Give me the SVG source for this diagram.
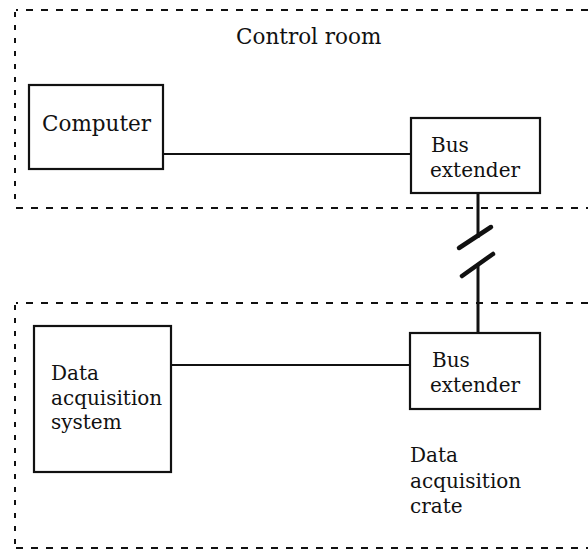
<svg xmlns="http://www.w3.org/2000/svg" width="588" height="551" viewBox="0 0 588 551">
<style>
.t{font-family:"DejaVu Serif","Liberation Serif",serif;font-size:20px;fill:#111}
.big{font-size:21.5px}
.box{fill:#fff;stroke:#111;stroke-width:2.2}
.dash{fill:none;stroke:#111;stroke-width:2.2;stroke-dasharray:7 8}
.dashv{fill:none;stroke:#111;stroke-width:2;stroke-dasharray:5 8}
.wire{stroke:#111;stroke-width:1.8;fill:none}
.bus{stroke:#111;stroke-width:3;fill:none}
.brk{stroke:#111;stroke-width:4.5;stroke-linecap:round;fill:none}
</style>
<g id="control-room">
<path class="dash" d="M588 10 H16"/>
<path class="dashv" d="M15 12 V206"/>
<path class="dash" d="M16 208 H588"/>
<text class="t big" x="236" y="44">Control room</text>
</g>
<g id="acq-crate">
<path class="dash" d="M588 303 H16"/>
<path class="dashv" d="M15 305 V546"/>
<path class="dash" d="M16 548 H588"/>
<text class="t"><tspan x="410" y="462">Data</tspan><tspan x="410" y="488">acquisition</tspan><tspan x="410" y="513">crate</tspan></text>
</g>
<g id="connectors">
<line class="wire" x1="163" y1="154" x2="411" y2="154"/>
<line class="wire" x1="171" y1="365" x2="410" y2="365"/>
<line class="bus" x1="478" y1="193" x2="478" y2="238"/>
<line class="bus" x1="478" y1="264" x2="478" y2="333"/>
<line class="brk" x1="459" y1="248" x2="491" y2="227"/>
<line class="brk" x1="462" y1="276" x2="493" y2="254"/>
</g>
<g id="computer">
<rect class="box" x="29" y="85" width="134" height="84"/>
<text class="t big" x="42" y="131">Computer</text>
</g>
<g id="bus-extender-top">
<rect class="box" x="411" y="118" width="129" height="75"/>
<text class="t"><tspan x="431" y="152">Bus</tspan><tspan x="430" y="177">extender</tspan></text>
</g>
<g id="daq-system">
<rect class="box" x="34" y="326" width="137" height="146"/>
<text class="t"><tspan x="51" y="380">Data</tspan><tspan x="51" y="405">acquisition</tspan><tspan x="51" y="429">system</tspan></text>
</g>
<g id="bus-extender-bottom">
<rect class="box" x="410" y="333" width="130" height="76"/>
<text class="t"><tspan x="432" y="367">Bus</tspan><tspan x="430" y="392">extender</tspan></text>
</g>
</svg>
